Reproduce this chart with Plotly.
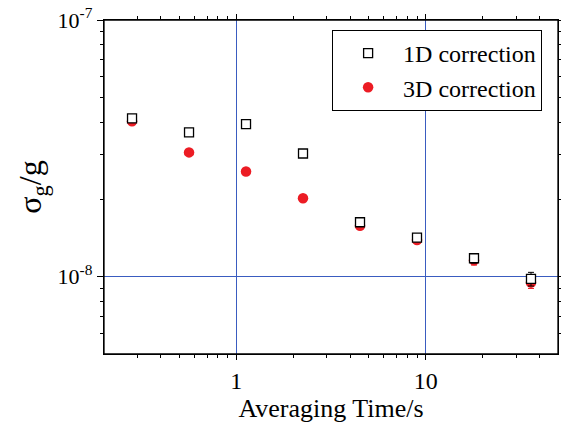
import plotly.graph_objects as go

time_s = [0.28125, 0.5625, 1.125, 2.25, 4.5, 9, 18, 36]
sigma_1d = [4.14e-8, 3.65e-8, 3.93e-8, 3.02e-8, 1.63e-8, 1.42e-8, 1.18e-8, 9.8e-9]
err_1d = [0.06e-8, 0.06e-8, 0.06e-8, 0.05e-8, 0.04e-8, 0.04e-8, 0.05e-8, 0.06e-8]
sigma_3d = [4.03e-8, 3.05e-8, 2.57e-8, 2.02e-8, 1.58e-8, 1.39e-8, 1.16e-8, 9.5e-9]
err_3d = [0.05e-8, 0.04e-8, 0.04e-8, 0.03e-8, 0.04e-8, 0.04e-8, 0.05e-8, 0.05e-8]

font = "Liberation Serif"

fig = go.Figure()
fig.add_trace(go.Scatter(
    x=time_s, y=sigma_3d, mode="markers", name="3D correction",
    marker=dict(symbol="circle", size=10.5, color="#ec1c24"),
    error_y=dict(type="data", array=err_3d, color="#ec1c24", thickness=1, width=3),
    legendrank=2,
))
fig.add_trace(go.Scatter(
    x=time_s, y=sigma_1d, mode="markers", name="1D correction",
    marker=dict(symbol="square", size=9, color="white", line=dict(color="black", width=1.3)),
    error_y=dict(type="data", array=err_1d, color="black", thickness=1, width=3),
    legendrank=1,
))

# page body has an 8px default margin, so the figure is shifted by (8, 8)
fig.update_layout(
    width=561, height=417,
    margin=dict(l=96, r=11, t=12, b=71),
    paper_bgcolor="white", plot_bgcolor="white",
    font=dict(family=font, color="black"),
    showlegend=True,
    legend=dict(x=0.965, xanchor="right", y=0.97, yanchor="top",
                bordercolor="black", borderwidth=1, bgcolor="white",
                font=dict(size=24, family=font), tracegroupgap=0,
                itemwidth=60),
    shapes=[dict(type="rect", xref="paper", yref="paper", x0=0, x1=1, y0=0, y1=1,
                 line=dict(color="black", width=1.3), layer="above")],
)
fig.update_xaxes(
    type="log", range=[-0.69897, 1.69897], automargin=False,
    tickvals=[1, 10], ticktext=["1", "10"],
    tickfont=dict(size=24, family=font), ticklabeloverflow="allow",
    title=dict(text="Averaging Time/s", font=dict(size=26, family=font), standoff=4),
    showline=True, linecolor="black", linewidth=1.3, mirror="ticks",
    ticks="outside", ticklen=5, tickcolor="black",
    minor=dict(ticks="outside", ticklen=3, tickcolor="black",
               tickvals=[0.3, 0.4, 0.5, 0.6, 0.7, 0.8, 0.9, 2, 3, 4, 5, 6, 7, 8, 9, 20, 30, 40]),
    showgrid=True, gridcolor="#3a5cc0", gridwidth=1, zeroline=False,
)
fig.update_yaxes(
    type="log", range=[-8.30103, -7], automargin=False,
    tickvals=[1e-8, 1e-7], ticktext=["10<sup>-8</sup>", "10<sup>-7</sup>"],
    tickfont=dict(size=22, family=font), ticklabeloverflow="allow",
    title=dict(text="σ<sub>g</sub>/g", font=dict(size=32, family=font), standoff=6),
    showline=True, linecolor="black", linewidth=1.3, mirror="ticks",
    ticks="outside", ticklen=6, tickcolor="black",
    minor=dict(ticks="outside", ticklen=3, tickcolor="black",
               tickvals=[6e-9, 7e-9, 8e-9, 9e-9, 2e-8, 3e-8, 4e-8, 5e-8, 6e-8, 7e-8, 8e-8, 9e-8]),
    showgrid=True, gridcolor="#3a5cc0", gridwidth=1, zeroline=False,
)

fig.write_html("out.html")
